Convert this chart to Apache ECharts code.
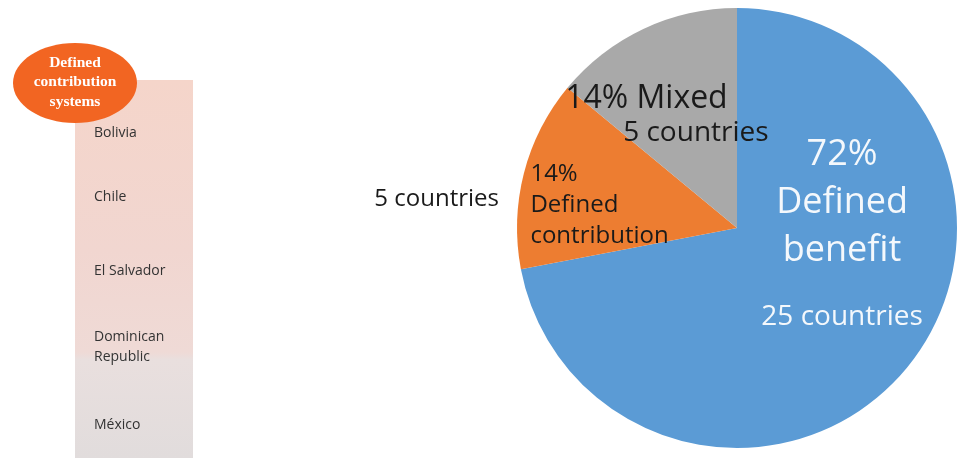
<!DOCTYPE html>
<html>
<head>
<meta charset="utf-8">
<script src="https://cdn.jsdelivr.net/npm/echarts@6/dist/echarts.min.js"></script>
<style>
  html, body { margin: 0; padding: 0; background: #ffffff; }
  #chart { width: 958px; height: 467px; }
</style>
</head>
<body>
<div id="chart"></div>
<script>
// Pension system types: share of countries and number of countries
const systemNames = ['Defined benefit', 'Defined contribution', 'Mixed'];
const systemShares = [72, 14, 14];          // percent of countries
const systemCountries = [25, 5, 5];         // number of countries
const systemColors = ['#5b9bd5', '#ed7d31', '#a9a9a9'];

// Countries with defined contribution systems
const dcCountries = ['Bolivia', 'Chile', 'El Salvador', 'Dominican\nRepublic', 'México'];
const dcBadge = 'Defined\ncontribution\nsystems';

// Vertical placement of the country names in the side column
const countryRowY = [133, 197, 271, 347, 425];

const FONT = '"Open Sans", "Noto Sans", sans-serif';

const chart = echarts.init(document.getElementById('chart'), null, { renderer: 'canvas' });

// Per-slice label styling
const sliceLabels = [
  {
    formatter: () => `{p|${systemShares[0]}%}\n{p|Defined}\n{p|benefit}\n{c|${systemCountries[0]} countries}`,
    offset: [18, -55],
    rich: {
      p: { fontFamily: FONT, fontSize: 36, lineHeight: 48, color: '#f4f8fc', align: 'center' },
      c: { fontFamily: FONT, fontSize: 28, lineHeight: 85, color: '#f4f8fc', align: 'center' }
    }
  },
  {
    formatter: () => `{t|${systemShares[1]}%}\n{t|Defined}\n{t|contribution}`,
    offset: [-28, 5],
    rich: {
      t: { fontFamily: FONT, fontSize: 24, lineHeight: 31, color: '#1a1a1a', align: 'left' }
    }
  },
  {
    formatter: () => `{a|${systemShares[2]}% ${systemNames[2]}}\n{g|}{b|${systemCountries[2]} countries}`,
    offset: [-22, -10],
    rich: {
      a: { fontFamily: FONT, fontSize: 32, lineHeight: 34, color: '#1a1a1a', align: 'left' },
      g: { width: 58, lineHeight: 34, align: 'left' },
      b: { fontFamily: FONT, fontSize: 28, lineHeight: 34, color: '#1a1a1a', align: 'left' }
    }
  }
];

const pieData = systemNames.map((name, i) => ({
  name,
  value: systemShares[i],
  itemStyle: { color: systemColors[i] },
  label: Object.assign({ show: true, position: 'inside' }, sliceLabels[i])
}));

// Side column with the list of defined contribution countries
const sideGraphics = [
  {
    type: 'rect',
    shape: { x: 75, y: 80, width: 118, height: 378 },
    style: {
      fill: new echarts.graphic.LinearGradient(0, 0, 0, 1, [
        { offset: 0, color: '#f5d5ca' },
        { offset: 0.45, color: '#f1d6d0' },
        { offset: 0.72, color: '#efdad6' },
        { offset: 0.74, color: '#e9dfde' },
        { offset: 1, color: '#e1dcdc' }
      ])
    },
    z: 1
  },
  ...dcCountries.map((name, i) => ({
    type: 'text',
    style: {
      text: name,
      x: 94,
      y: countryRowY[i],
      fill: '#333333',
      font: `14px ${FONT}`,
      lineHeight: 20,
      align: 'left',
      verticalAlign: 'middle'
    },
    z: 2
  })),
  {
    type: 'ellipse',
    shape: { cx: 75, cy: 83, rx: 62, ry: 40 },
    style: { fill: '#f26522' },
    z: 3
  },
  {
    type: 'text',
    style: {
      text: dcBadge,
      x: 75,
      y: 82,
      fill: '#ffffff',
      font: 'bold 15.5px "Liberation Serif", "DejaVu Serif", serif',
      lineHeight: 19.5,
      align: 'center',
      verticalAlign: 'middle'
    },
    z: 4
  },
  // Country count shown beside the defined contribution slice
  {
    type: 'text',
    style: {
      text: `${systemCountries[1]} countries`,
      x: 499,
      y: 199,
      fill: '#1a1a1a',
      font: `24px ${FONT}`,
      align: 'right',
      verticalAlign: 'middle'
    },
    z: 4
  }
];

chart.setOption({
  animation: false,
  backgroundColor: '#ffffff',
  graphic: sideGraphics,
  series: [
    {
      type: 'pie',
      center: [737, 228],
      radius: [0, 220],
      startAngle: 90,
      clockwise: true,
      avoidLabelOverlap: false,
      labelLayout: { hideOverlap: false },
      labelLine: { show: false },
      emphasis: { disabled: true },
      itemStyle: { borderWidth: 0 },
      data: pieData
    }
  ]
});
</script>
</body>
</html>
